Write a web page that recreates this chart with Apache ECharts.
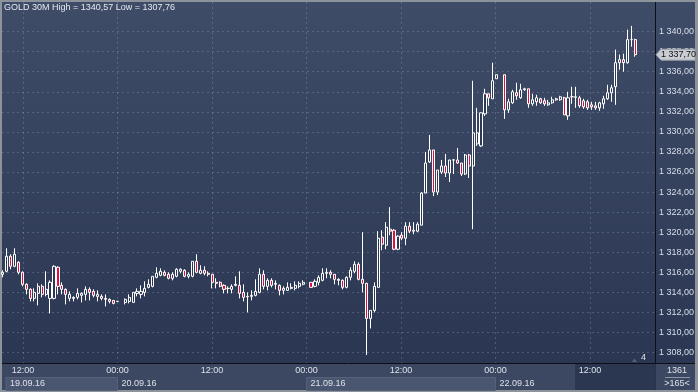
<!DOCTYPE html>
<html><head><meta charset="utf-8">
<script src="https://cdn.jsdelivr.net/npm/echarts@6/dist/echarts.min.js"></script>
<style>html,body{margin:0;padding:0;background:#8d939b;}#c{width:698px;height:392px;}</style>
</head><body><div id="c"></div>
<script>
// 30-minute GOLD bars, index = bar slot (null = missing bar)
const opens = [
1315.8,1316.1,1317.6,1316.6,1317.0,1316.0,1314.8,1314.3,1313.4,1313.9,
1314.6,1313.8,1313.4,1313.4,1316.5,1314.7,1314.3,1313.4,1313.5,1313.5,
1313.7,1313.8,1314.3,1314.1,1313.6,1313.6,1313.3,1313.3,1313.2,1313.1,
null,1313.0,1313.1,1313.0,1313.9,1313.8,1314.0,1314.5,1314.6,1315.5,
1315.7,1316.0,1315.8,1315.4,1315.6,1316.1,1316.2,1315.6,1315.6,1317.1,
1315.9,1316.2,1315.9,1315.8,1315.0,1315.0,1314.7,1314.4,1314.3,1314.7,
1314.7,1314.0,1313.6,1313.6,1313.7,1314.0,1315.8,1314.6,1315.2,1314.8,
1314.7,1314.2,1314.2,1314.5,1314.4,1314.6,1314.8,null,1315.0,1314.6,
1315.0,1315.2,1315.9,1316.0,1315.8,1315.3,1315.2,1314.5,1315.5,1316.1,
1316.8,1315.3,1314.9,1311.4,1312.2,1314.5,1319.5,1318.7,1320.3,1320.2,
1318.3,1319.7,1319.4,1320.6,1320.2,1320.1,1320.7,1323.9,1327.0,1328.2,
1324.0,1326.0,1326.6,1325.9,1327.2,1327.2,1326.9,1325.8,1327.7,1326.6,
1328.8,1328.6,1331.8,1333.8,1333.3,1335.3,null,1335.7,1332.2,1332.9,
1333.9,1333.4,1334.2,1334.3,1332.8,1333.0,1333.3,1333.1,1332.7,1332.9,
1333.2,1333.2,1333.4,1331.6,1333.5,1333.5,1333.4,1333.1,1333.0,1332.7,
1332.6,1332.4,1332.8,1333.3,1333.9,1334.5,1336.9,1337.2,1336.9,1339.2,
1339.2];
const closes = [
1316.0,1317.6,1316.6,1317.8,1316.0,1314.8,1314.3,1313.4,1314.0,1314.6,
1313.8,1314.3,1315.0,1316.6,1314.6,1314.3,1313.8,1313.8,1313.4,1313.9,
1313.9,1314.3,1314.0,1313.7,1313.8,1313.4,1313.4,1313.1,1312.9,1313.1,
null,1313.3,1313.5,1314.0,1314.1,1314.1,1314.4,1314.8,1315.6,1315.9,
1316.1,1315.7,1315.4,1315.8,1316.3,1316.3,1315.6,1315.8,1317.1,1316.0,
1316.2,1315.9,1315.8,1315.0,1314.9,1314.6,1314.3,1314.4,1314.6,1314.8,
1313.9,1313.5,1313.55,1313.7,1314.1,1315.8,1314.6,1315.2,1314.7,1314.9,
1314.2,1314.4,1314.5,1314.4,1314.7,1314.9,1315.0,null,1314.5,1315.1,
1315.5,1315.9,1316.0,1315.8,1315.3,1315.2,1314.5,1315.5,1316.2,1316.8,
1315.3,1314.9,1311.4,1312.2,1314.6,1319.4,1318.8,1320.5,1320.1,1318.3,
1319.6,1319.4,1320.6,1320.1,1320.1,1320.8,1323.9,1326.9,1328.2,1324.0,
1326.2,1326.6,1325.9,1327.2,1327.2,1326.9,1325.8,1327.7,1326.6,1329.9,
1329.9,1331.9,1333.8,1333.4,1335.1,1335.7,null,1332.2,1333.0,1334.0,
1333.6,1334.2,1334.3,1332.8,1333.2,1333.4,1332.9,1332.8,1332.9,1333.2,
1333.3,1333.5,1331.7,1333.4,1333.5,1333.45,1332.6,1332.5,1332.4,1332.5,
1332.4,1332.9,1333.3,1333.9,1334.4,1336.9,1337.2,1336.9,1339.2,1339.2,
1337.7];
const lows = [
1315.5,1316.0,1316.3,1316.5,1315.8,1314.6,1313.8,1313.1,1313.1,1312.7,
1313.5,1313.6,1311.9,1313.3,1313.8,1313.8,1312.8,1313.1,1313.1,1313.3,
1313.0,1313.2,1313.2,1313.5,1313.1,1313.2,1312.6,1312.9,1312.8,1313.05,
null,1312.8,1312.9,1313.0,1313.6,1313.4,1313.6,1314.4,1314.5,1315.4,
1315.6,1315.6,1315.3,1315.2,1315.5,1315.9,1315.5,1315.4,1315.5,1315.9,
1315.8,1315.7,1315.6,1314.4,1314.4,1314.5,1313.9,1313.9,1313.9,1314.6,
1313.4,1313.1,1312.0,1313.2,1313.6,1313.9,1314.3,1314.2,1314.5,1314.3,
1313.7,1313.8,1314.2,1314.3,1314.2,1314.4,1314.7,null,1314.5,1314.5,
1314.7,1315.1,1315.4,1315.4,1314.8,1314.7,1314.3,1314.4,1315.2,1315.9,
1315.2,1314.0,1307.76,1310.4,1312.0,1314.5,1318.2,1318.3,1319.7,1318.2,
1318.2,1319.2,1318.7,1319.9,1319.8,1320.0,1320.7,1323.9,1326.9,1323.6,
1323.7,1325.8,1325.5,1325.0,1325.8,1326.8,1325.6,1325.7,1325.4,1320.3,
1328.6,1328.5,1331.6,1332.6,1333.3,1335.3,null,1331.3,1331.9,1332.8,
1333.2,1333.3,1334.1,1332.4,1332.6,1332.6,1332.8,1332.6,1332.6,1332.8,
1333.1,1333.1,1331.7,1331.2,1332.8,1332.4,1332.4,1332.3,1332.2,1332.2,
1332.2,1332.1,1332.3,1333.2,1333.0,1332.7,1336.2,1336.0,1336.8,1338.5,
1337.5];
const highs = [
1316.2,1318.4,1317.8,1318.4,1317.1,1316.1,1314.9,1314.4,1314.4,1314.9,
1314.8,1316.1,1315.2,1316.7,1316.6,1315.0,1314.4,1314.1,1313.6,1314.4,
1314.0,1314.6,1314.5,1314.3,1314.2,1313.8,1313.8,1313.4,1313.2,1313.15,
null,1313.4,1313.8,1314.0,1314.4,1314.7,1315.1,1315.3,1315.6,1316.5,
1316.4,1316.2,1316.0,1316.0,1316.4,1316.4,1316.3,1316.0,1317.1,1317.8,
1316.7,1316.6,1316.1,1315.8,1315.4,1315.1,1314.8,1314.6,1314.8,1315.6,
1316.1,1314.8,1314.0,1314.2,1315.3,1316.4,1316.2,1315.4,1315.4,1315.2,
1314.8,1314.6,1315.0,1314.9,1315.1,1315.1,1315.2,null,1315.0,1315.3,
1315.7,1316.4,1316.4,1316.2,1315.8,1315.4,1315.3,1315.6,1316.5,1317.1,
1317.0,1320.0,1314.95,1312.2,1315.0,1320.1,1320.2,1321.0,1322.5,1320.3,
1319.7,1320.0,1321.0,1321.0,1321.0,1321.0,1324.0,1328.0,1329.7,1328.2,
1326.2,1327.2,1327.8,1327.2,1327.3,1328.4,1326.9,1327.8,1327.8,1335.1,
1332.4,1331.95,1334.3,1333.8,1336.9,1335.7,null,1335.7,1333.3,1334.2,
1334.9,1334.8,1334.4,1334.3,1333.8,1333.7,1333.4,1333.4,1333.2,1333.5,
1333.4,1333.6,1333.5,1334.0,1334.5,1334.5,1333.6,1333.3,1333.2,1333.0,
1333.0,1333.0,1333.6,1334.7,1334.7,1338.2,1337.7,1337.8,1340.2,1340.57,
1339.3];

const yTickValues = [1308,1310,1312,1314,1316,1318,1320,1322,1324,1326,1328,1330,1332,1334,1336,1338,1340];
const timeLabels = ['12:00','00:00','12:00','00:00','12:00','00:00','12:00'];
const dateLabels = ['19.09.16','20.09.16','21.09.16','22.09.16'];
const barsTotal = 1361, barsShown = 165;

const FONT = '"Liberation Sans", Arial, sans-serif';
const fmt = v => { const p = v.toFixed(2).split('.'); return p[0].replace(/\B(?=(\d{3})+(?!\d))/g, ' ') + ',' + p[1]; };
const fmtT = v => v.toFixed(2).replace('.', ',');

const candles = [];
for (let i = 0; i < opens.length; i++) {
  if (opens[i] != null) candles.push([i, opens[i], closes[i], lows[i], highs[i]]);
}
const hi = Math.max(...highs.filter(v => v != null));
const lo = Math.min(...lows.filter(v => v != null));
let lastClose = null;
for (let i = closes.length - 1; i >= 0; i--) { if (closes[i] != null) { lastClose = closes[i]; break; } }

const gridLine = {color: 'rgba(150,165,195,0.33)', type: [2, 3], width: 1};

const chart = echarts.init(document.getElementById('c'));
chart.setOption({
  animation: false,
  backgroundColor: 'transparent',
  title: {
    text: 'GOLD 30M High = ' + fmtT(hi) + ' Low = ' + fmtT(lo),
    left: 4, top: 3, padding: 0,
    textStyle: {color: '#e6e9ef', fontSize: 9, fontWeight: 'normal', fontFamily: FONT}
  },
  grid: [
    {left: 2, right: 43, top: 11.54, bottom: 19.4},
    {left: 23, right: 43, top: 2, bottom: 29}
  ],
  xAxis: [
    {type: 'value', gridIndex: 0, min: -0.152, max: 165, show: false},
    {type: 'value', gridIndex: 1, min: 0, max: 6.688, interval: 1,
     axisLine: {show: false}, axisTick: {show: false},
     splitLine: {show: true, showMaxLine: false, lineStyle: gridLine},
     axisLabel: {margin: 3, fontSize: 9, fontFamily: FONT, showMaxLabel: false,
       color: (v) => (v === 6 ? '#5d6981' : '#dde2ea'),
       formatter: (v) => (Number.isInteger(v) && timeLabels[v] ? timeLabels[v] : '')}}
  ],
  yAxis: [
    {type: 'value', gridIndex: 0, position: 'right', min: 1306, max: 1342, interval: 2,
     axisLine: {show: false}, axisTick: {show: false},
     splitLine: {show: true, showMinLine: false, showMaxLine: false, lineStyle: gridLine},
     axisLabel: {margin: 4, fontSize: 9, color: '#d8dee8', fontFamily: FONT,
       formatter: (v) => (yTickValues.includes(v) ? fmt(v) : '')}},
    {type: 'value', gridIndex: 1, show: false, min: 0, max: 1}
  ],
  series: [{
    type: 'candlestick', xAxisIndex: 0, yAxisIndex: 0, data: candles, barWidth: 2.6,
    itemStyle: {color: 'rgba(40,52,78,0.6)', color0: '#e0103e', borderColor: '#ffffff',
      borderColor0: '#ffffff', borderColorDoji: '#ffffff', borderWidth: 1}
  }]
});

const px = v => chart.convertToPixel({xAxisIndex: 1}, v);
const py = v => chart.convertToPixel({yAxisIndex: 0}, v);
const d1 = px(1), d3 = px(3), d5 = px(5);
const my = py(lastClose);
const txt = (t, x, y, fill, align) => ({type: 'text', x: x, y: y, z: 12,
  style: {text: t, fill: fill, font: '9px ' + FONT, align: align || 'left', verticalAlign: 'middle',
          textAlign: align || 'left', textVerticalAlign: 'middle'}});

chart.setOption({graphic: [
  {type: 'rect', z: -30, shape: {x: 0, y: 0, width: 698, height: 392}, style: {fill: '#8d939b'}},
  {type: 'rect', z: -20, shape: {x: 2, y: 2, width: 693, height: 361},
   style: {fill: new echarts.graphic.LinearGradient(0, 0, 0, 1, [{offset: 0, color: '#3f4c68'}, {offset: 1, color: '#2b3752'}])}},
  {type: 'rect', z: -20, shape: {x: 2, y: 364, width: 693, height: 26}, style: {fill: '#3c4862'}},
  {type: 'rect', z: -15, shape: {x: 6, y: 377.5, width: d1 - 6, height: 13}, style: {fill: '#4a5670', stroke: '#56627b', lineWidth: 1}},
  {type: 'rect', z: -15, shape: {x: d3, y: 377.5, width: d5 - d3, height: 13}, style: {fill: '#4a5670', stroke: '#56627b', lineWidth: 1}},
  {type: 'rect', z: -15, shape: {x: 575, y: 364, width: 80, height: 26}, style: {fill: '#2b3650'}},
  {type: 'line', z: 5, shape: {x1: 655.5, y1: 364, x2: 655.5, y2: 390}, style: {stroke: '#2a3348', lineWidth: 1}},
  {type: 'line', z: 5, shape: {x1: 2, y1: 363.5, x2: 695, y2: 363.5}, style: {stroke: '#0d0f14', lineWidth: 1}},
  {type: 'line', z: 5, shape: {x1: 655.5, y1: 2, x2: 655.5, y2: 363}, style: {stroke: '#0d0f14', lineWidth: 1}},
  txt(dateLabels[0], 10, 384, '#dde2ea'),
  txt(dateLabels[1], d1 + 4, 384, '#dde2ea'),
  txt(dateLabels[2], d3 + 4, 384, '#dde2ea'),
  txt(dateLabels[3], d5 + 4, 384, '#dde2ea'),
  {type: 'polygon', z: 11, shape: {points: [[656, my], [661, my - 5.5], [695, my - 5.5], [695, my + 5.5], [661, my + 5.5]]},
   style: {fill: '#c9cdd3', stroke: '#9aa0a8', lineWidth: 1}},
  txt(fmt(lastClose), 661, my, '#111111'),
  {type: 'polygon', z: 11, shape: {points: [[632, 362], [634.5, 358.5], [637, 362]]}, style: {fill: '#56617a'}},
  txt('4', 643.5, 358, '#e0e4ea', 'center'),
  txt(String(barsTotal), 677, 370.5, '#dfe3ea', 'center'),
  {type: 'line', z: 11, shape: {x1: 665, y1: 377.5, x2: 690, y2: 377.5}, style: {stroke: '#8d95a5', lineWidth: 1}},
  txt('>' + barsShown + '<', 677, 384, '#dfe3ea', 'center')
]});
</script>
</body></html>
